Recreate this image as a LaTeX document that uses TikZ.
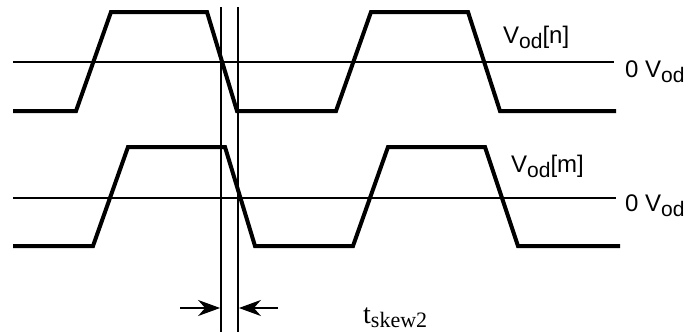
\documentclass[tikz,border=0pt]{standalone}
\usepackage{fontspec}
\setmainfont{Liberation Sans}
\newfontfamily\timesfnt{Liberation Serif}
\usetikzlibrary{arrows.meta,positioning}
\newcommand{\sublo}[2][21]{\raisebox{-5pt}{\fontsize{#1}{#1}\selectfont #2}}
\tikzset{
  wave/.style  = { line width=4pt },
  refl/.style  = { line width=1.8pt },
  lbl/.style   = { anchor=base west, inner sep=0pt, font=\fontsize{24}{28}\selectfont },
  skw/.style   = { line width=1.8pt, -{Stealth[length=22pt,width=16pt,inset=7pt]} }
}

\begin{document}
\begin{tikzpicture}[x=1pt,y=-1pt]
    \useasboundingbox (0,0) rectangle (688,332);
    % zero levels
    \draw[refl] (13,62) -- (614,62);
    \draw[refl] (13,198) -- (616,198);
    % waveforms
    \draw[wave] (13,111) -- (76,111) -- (111,12) -- (207,12) -- (237,111)
       -- (336,111) -- (371,12) -- (468,12) -- (500,111) -- (616,111);
    \draw[wave] (13,246) -- (93,246) -- (128,147) -- (225,147) -- (255,246)
       -- (353,246) -- (388,147) -- (485,147) -- (518,246) -- (620,246);
    % skew markers
    \coordinate (ma) at (221,7);
    \coordinate (mb) at (221,332);
    \coordinate (na) at (238,7);
    \coordinate (nb) at (238,332);
    \draw[refl] (ma) -- (mb);
    \draw[refl] (na) -- (nb);
    \coordinate (la) at (180,308);
    \coordinate (lb) at (220.1,308);
    \coordinate (ra) at (278,308);
    \coordinate (rb) at (238.9,308);
    \draw[skw] (la) -- (lb);
    \draw[skw] (ra) -- (rb);
    % labels
    \node[lbl] (vn) at (503,43) {V\sublo{od}[n]};
    \node[lbl] (zn) at (625,77) {0 V\sublo{od}};
    \node[lbl] (vm) at (511,172) {V\sublo{od}[m]};
    \node[lbl] (zm) at (625,211) {0 V\sublo{od}};
    \node[lbl, font=\timesfnt\fontsize{28}{30}\selectfont] (tk) at (363,323)
       {t\raisebox{-4pt}{\fontsize{22}{22}\selectfont skew2}};
\end{tikzpicture}
\end{document}
